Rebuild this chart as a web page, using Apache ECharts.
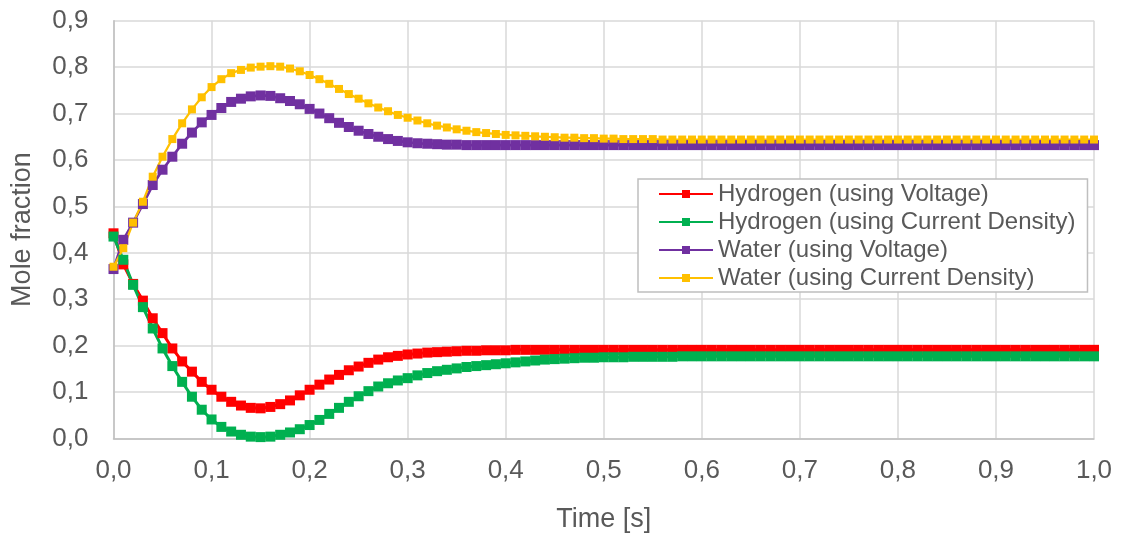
<!DOCTYPE html>
<html>
<head>
<meta charset="utf-8">
<script src="https://cdn.jsdelivr.net/npm/echarts@6/dist/echarts.min.js"></script>
<style>
  html, body { margin: 0; padding: 0; background: #ffffff; }
  #chart { width: 1122px; height: 533px; }
</style>
</head>
<body>
<div id="chart"></div>
<script>
// Time samples [s]
const time = [
  0.00, 0.01, 0.02, 0.03, 0.04, 0.05, 0.06, 0.07, 0.08, 0.09,
  0.10, 0.11, 0.12, 0.13, 0.14, 0.15, 0.16, 0.17, 0.18, 0.19,
  0.20, 0.21, 0.22, 0.23, 0.24, 0.25, 0.26, 0.27, 0.28, 0.29,
  0.30, 0.31, 0.32, 0.33, 0.34, 0.35, 0.36, 0.37, 0.38, 0.39,
  0.40, 0.41, 0.42, 0.43, 0.44, 0.45, 0.46, 0.47, 0.48, 0.49,
  0.50, 0.51, 0.52, 0.53, 0.54, 0.55, 0.56, 0.57, 0.58, 0.59,
  0.60, 0.61, 0.62, 0.63, 0.64, 0.65, 0.66, 0.67, 0.68, 0.69,
  0.70, 0.71, 0.72, 0.73, 0.74, 0.75, 0.76, 0.77, 0.78, 0.79,
  0.80, 0.81, 0.82, 0.83, 0.84, 0.85, 0.86, 0.87, 0.88, 0.89,
  0.90, 0.91, 0.92, 0.93, 0.94, 0.95, 0.96, 0.97, 0.98, 0.99,
  1.00
];

// Hydrogen mole fraction, voltage-driven model
const hydrogenVoltage = [
  0.442, 0.375, 0.333, 0.297, 0.259, 0.227, 0.194, 0.166, 0.144, 0.122,
  0.105, 0.090, 0.079, 0.071, 0.066, 0.065, 0.068, 0.074, 0.082, 0.093,
  0.105, 0.116, 0.127, 0.137, 0.147, 0.155, 0.163, 0.170, 0.175, 0.178,
  0.181, 0.183, 0.185, 0.186, 0.187, 0.188, 0.189, 0.189, 0.190, 0.190,
  0.190, 0.191, 0.191, 0.191, 0.191, 0.191, 0.191, 0.191, 0.191, 0.191,
  0.191, 0.191, 0.191, 0.191, 0.191, 0.191, 0.191, 0.191, 0.191, 0.191,
  0.191, 0.191, 0.191, 0.191, 0.191, 0.191, 0.191, 0.191, 0.191, 0.191,
  0.191, 0.191, 0.191, 0.191, 0.191, 0.191, 0.191, 0.191, 0.191, 0.191,
  0.191, 0.191, 0.191, 0.191, 0.191, 0.191, 0.191, 0.191, 0.191, 0.191,
  0.191, 0.191, 0.191, 0.191, 0.191, 0.191, 0.191, 0.191, 0.191, 0.191,
  0.191
];

// Hydrogen mole fraction, current-density-driven model
const hydrogenCurrent = [
  0.435, 0.385, 0.331, 0.283, 0.237, 0.194, 0.156, 0.122, 0.090, 0.062,
  0.041, 0.025, 0.015, 0.008, 0.004, 0.003, 0.004, 0.008, 0.013, 0.020,
  0.029, 0.040, 0.053, 0.066, 0.079, 0.091, 0.102, 0.112, 0.119, 0.125,
  0.130, 0.136, 0.141, 0.145, 0.148, 0.151, 0.154, 0.156, 0.158, 0.160,
  0.162, 0.164, 0.166, 0.168, 0.170, 0.171, 0.172, 0.173, 0.174, 0.174,
  0.175, 0.175, 0.175, 0.176, 0.176, 0.176, 0.176, 0.176, 0.177, 0.177,
  0.177, 0.177, 0.177, 0.177, 0.177, 0.177, 0.177, 0.177, 0.177, 0.177,
  0.177, 0.177, 0.177, 0.177, 0.177, 0.177, 0.177, 0.177, 0.177, 0.177,
  0.177, 0.177, 0.177, 0.177, 0.177, 0.177, 0.177, 0.177, 0.177, 0.177,
  0.177, 0.177, 0.177, 0.177, 0.177, 0.177, 0.177, 0.177, 0.177, 0.177,
  0.177
];

// Water mole fraction, voltage-driven model
const waterVoltage = [
  0.365, 0.428, 0.465, 0.505, 0.546, 0.579, 0.607, 0.635, 0.659, 0.681,
  0.697, 0.712, 0.725, 0.732, 0.737, 0.739, 0.738, 0.733, 0.727, 0.720,
  0.710, 0.700, 0.690, 0.680, 0.671, 0.663, 0.656, 0.650, 0.645, 0.641,
  0.638, 0.636, 0.635, 0.634, 0.633, 0.633, 0.632, 0.632, 0.632, 0.632,
  0.632, 0.632, 0.632, 0.632, 0.632, 0.632, 0.632, 0.632, 0.632, 0.632,
  0.632, 0.632, 0.632, 0.632, 0.632, 0.632, 0.632, 0.632, 0.632, 0.632,
  0.632, 0.632, 0.632, 0.632, 0.632, 0.632, 0.632, 0.632, 0.632, 0.632,
  0.632, 0.632, 0.632, 0.632, 0.632, 0.632, 0.632, 0.632, 0.632, 0.632,
  0.632, 0.632, 0.632, 0.632, 0.632, 0.632, 0.632, 0.632, 0.632, 0.632,
  0.632, 0.632, 0.632, 0.632, 0.632, 0.632, 0.632, 0.632, 0.632, 0.632,
  0.632
];

// Water mole fraction, current-density-driven model
const waterCurrent = [
  0.370, 0.410, 0.465, 0.510, 0.564, 0.607, 0.645, 0.679, 0.709, 0.735,
  0.757, 0.774, 0.787, 0.794, 0.799, 0.801, 0.802, 0.801, 0.797, 0.791,
  0.783, 0.774, 0.764, 0.753, 0.742, 0.732, 0.722, 0.713, 0.705, 0.697,
  0.691, 0.685, 0.679, 0.674, 0.670, 0.666, 0.663, 0.660, 0.658, 0.656,
  0.654, 0.653, 0.652, 0.651, 0.650, 0.649, 0.648, 0.648, 0.647, 0.647,
  0.646, 0.646, 0.645, 0.645, 0.645, 0.645, 0.644, 0.644, 0.644, 0.644,
  0.644, 0.644, 0.644, 0.644, 0.644, 0.644, 0.644, 0.644, 0.644, 0.644,
  0.644, 0.644, 0.644, 0.644, 0.644, 0.644, 0.644, 0.644, 0.644, 0.644,
  0.644, 0.644, 0.644, 0.644, 0.644, 0.644, 0.644, 0.644, 0.644, 0.644,
  0.644, 0.644, 0.644, 0.644, 0.644, 0.644, 0.644, 0.644, 0.644, 0.644,
  0.644
];

const seriesNames = [
  'Hydrogen (using Voltage)',
  'Hydrogen (using Current Density)',
  'Water (using Voltage)',
  'Water (using Current Density)'
];

const FONT = '"Liberation Sans", Arial, sans-serif';
const TEXT = '#595959';
const commaFmt = v => v.toFixed(1).replace('.', ',');

function pairs(values) {
  return time.map((t, i) => [t, values[i]]);
}

function lineSeries(name, values, color, width, size) {
  return {
    name: name,
    type: 'line',
    data: pairs(values),
    symbol: 'rect',
    symbolSize: size,
    showSymbol: true,
    showAllSymbol: true,
    lineStyle: { color: color, width: width },
    itemStyle: { color: color },
    emphasis: { disabled: true }
  };
}

const chart = echarts.init(document.getElementById('chart'), null, { renderer: 'canvas' });

chart.setOption({
  animation: false,
  backgroundColor: '#ffffff',
  textStyle: { fontFamily: FONT, color: TEXT },
  grid: {
    left: 113.5, right: 28, top: 20.7, bottom: 94.5,
    containLabel: false,
    outerBoundsMode: 'none'
  },
  legend: {
    orient: 'vertical',
    left: 638,
    top: 179,
    backgroundColor: '#ffffff',
    borderColor: '#BFBFBF',
    borderWidth: 1.5,
    borderRadius: 0,
    padding: [3, 12, 2, 20],
    itemGap: 4,
    itemWidth: 54,
    itemHeight: 10,
    textStyle: { fontFamily: FONT, fontSize: 24, color: TEXT, lineHeight: 24 },
    data: seriesNames
  },
  xAxis: {
    type: 'value',
    min: 0,
    max: 1,
    interval: 0.1,
    name: 'Time [s]',
    nameLocation: 'middle',
    nameGap: 68,
    nameTextStyle: { fontFamily: FONT, fontSize: 27, color: TEXT },
    axisLine: { show: true, lineStyle: { color: '#BFBFBF', width: 1.5 } },
    axisTick: { show: false },
    axisLabel: { fontFamily: FONT, fontSize: 26, color: TEXT, margin: 19, formatter: commaFmt },
    splitLine: { show: true, lineStyle: { color: '#D9D9D9', width: 1.5 } }
  },
  yAxis: {
    type: 'value',
    min: 0,
    max: 0.9,
    interval: 0.1,
    name: 'Mole fraction',
    nameLocation: 'middle',
    nameGap: 77,
    nameTextStyle: { fontFamily: FONT, fontSize: 27, color: TEXT },
    axisLine: { show: true, lineStyle: { color: '#BFBFBF', width: 1.5 } },
    axisTick: { show: false },
    axisLabel: { fontFamily: FONT, fontSize: 26, color: TEXT, margin: 25, formatter: commaFmt },
    splitLine: { show: true, lineStyle: { color: '#D9D9D9', width: 1.5 } }
  },
  series: [
    lineSeries(seriesNames[0], hydrogenVoltage, '#FF0000', 3, 10),
    lineSeries(seriesNames[1], hydrogenCurrent, '#00B050', 3, 10),
    lineSeries(seriesNames[2], waterVoltage, '#7030A0', 2.75, 10),
    lineSeries(seriesNames[3], waterCurrent, '#FFC000', 2.25, 8)
  ]
});
</script>
</body>
</html>
